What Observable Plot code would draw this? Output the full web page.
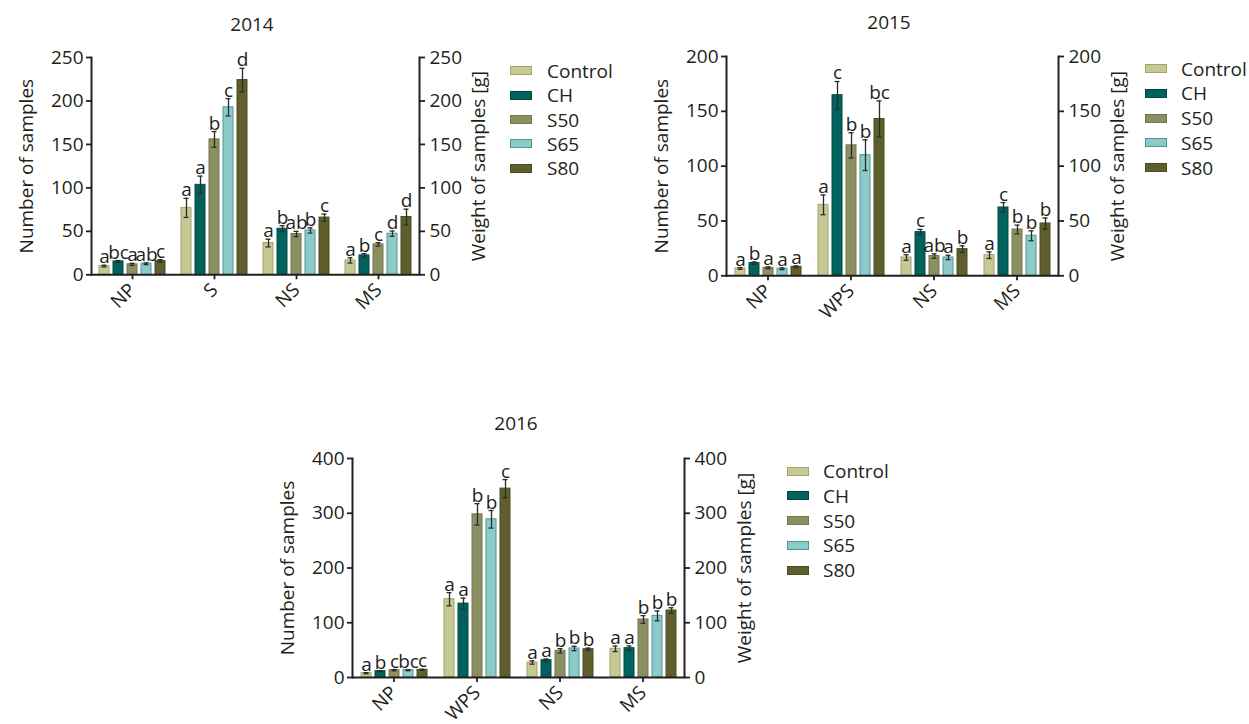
<!DOCTYPE html>
<html><head><meta charset="utf-8">
<script src="https://cdn.jsdelivr.net/npm/d3@7"></script>
<script src="https://cdn.jsdelivr.net/npm/@observablehq/plot@0.6"></script>
<style>
body{margin:0;background:#fff;font-family:"Open Sans",sans-serif;color:#231f20}
#root{position:relative;width:1249px;height:724px;overflow:hidden;background:#fff}
.panel{position:absolute}
.panel svg{overflow:visible}
.title{position:absolute;font-size:19px;line-height:19px;text-align:center;width:100px}
.lrow{position:absolute;height:24px;line-height:24px;font-size:19px;white-space:nowrap}
.sw{position:absolute;width:22px;height:9px;box-sizing:border-box;border:1.5px solid}
</style></head><body><div id="root"></div>
<script>
// ---------- data ----------
const treatments = ["Control", "CH", "S50", "S65", "S80"];
const fillColors = ["#c6c994", "#00615d", "#8b9062", "#8ccbc7", "#5e5f2d"];
const strokeColors = ["#a2a56a", "#004a46", "#72764b", "#4f9794", "#4a4b21"];

const categories2014 = ["NP", "S", "NS", "MS"];
const means2014 = [
  [10, 15.4, 12, 12.7, 16],
  [77, 103.5, 155.8, 192.7, 224],
  [36.5, 53, 47, 51, 65.8],
  [16.5, 22.3, 35, 47.3, 66.5]
];
const errors2014 = [
  [1, 1, 1.2, 1, 1.3],
  [11, 10, 9, 10, 13.5],
  [4.4, 3.5, 3, 3, 4],
  [3, 2, 2, 3, 9]
];
const letters2014 = [
  ["a", "bc", "a", "ab", "c"],
  ["a", "a", "b", "c", "d"],
  ["a", "b", "ab", "b", "c"],
  ["a", "b", "c", "d", "d"]
];
const ticks2014 = [0, 50, 100, 150, 200, 250];

const categories2015 = ["NP", "WPS", "NS", "MS"];
const means2015 = [
  [6.7, 11.6, 7.3, 6.4, 8.2],
  [64.7, 164.7, 119, 110, 143],
  [16.7, 39.8, 18, 16.7, 24.3],
  [18.8, 62.3, 42.2, 36.5, 47.7]
];
const errors2015 = [
  [0.8, 1, 0.8, 0.8, 0.8],
  [9, 12.5, 11.5, 14, 16.5],
  [2.5, 2.5, 2, 2, 3],
  [3, 4.5, 4, 4.5, 5]
];
const letters2015 = [
  ["a", "b", "a", "a", "a"],
  ["a", "c", "b", "b", "bc"],
  ["a", "c", "ab", "a", "b"],
  ["a", "c", "b", "b", "b"]
];
const ticks2015 = [0, 50, 100, 150, 200];

const categories2016 = ["NP", "WPS", "NS", "MS"];
const means2016 = [
  [7.9, 11.6, 13.4, 13.4, 14],
  [143, 135, 298, 289, 345],
  [27.4, 31.7, 48.7, 53, 51.7],
  [52.4, 53.6, 106, 112.6, 122.4]
];
const errors2016 = [
  [1, 1, 1.2, 1, 1],
  [12, 10, 19.5, 16, 16.5],
  [3, 2, 4, 4, 2],
  [5, 4, 7, 9, 5]
];
const letters2016 = [
  ["a", "b", "c", "bc", "c"],
  ["a", "a", "b", "b", "c"],
  ["a", "a", "b", "b", "b"],
  ["a", "a", "b", "b", "b"]
];
const ticks2016 = [0, 100, 200, 300, 400];

const years = ["2014", "2015", "2016"];
const yLabel = "Number of samples";
const y2Label = "Weight of samples [g]";

// ---------- helpers ----------
const fillOf = Object.fromEntries(treatments.map((t, i) => [t, fillColors[i]]));
const strokeOf = Object.fromEntries(treatments.map((t, i) => [t, strokeColors[i]]));
const ink = "#231f20";
const FS = 19;
const root = document.getElementById("root");

function buildRows(cats, means, errs, lets) {
  return cats.flatMap((c, i) => treatments.map((t, j) => ({cat: c, t, v: means[i][j], e: errs[i][j], l: lets[i][j]})));
}

function panel(cfg) {
  const {cats, means, errs, lets, ticks, frameLeft, frameRight, frameTop, frameBottom} = cfg;
  const data = buildRows(cats, means, errs, lets);
  const mL = 90, mR = 81, mT = 56, mB = 55;
  const W = mL + (frameRight - frameLeft) + mR;
  const H = mT + (frameBottom - frameTop) + mB;
  const chart = Plot.plot({
    width: W, height: H,
    marginLeft: mL, marginRight: mR, marginTop: mT, marginBottom: mB,
    style: {fontFamily: "'Open Sans', sans-serif", fontSize: FS + "px", color: ink, background: "transparent", overflow: "visible"},
    fx: {domain: cats, padding: 0},
    x: {domain: treatments, paddingInner: 0.3, paddingOuter: 0.5, axis: null},
    y: {domain: [0, ticks[ticks.length - 1]]},
    color: {type: "identity"},
    marks: [
      Plot.barY(data, {fx: "cat", x: "t", y: "v", fill: d => fillOf[d.t], stroke: d => strokeOf[d.t], strokeWidth: 1}),
      Plot.ruleX(data, {fx: "cat", x: "t", y1: d => d.v - d.e, y2: d => d.v + d.e, stroke: "#2b2b2b", strokeWidth: 1.3}),
      Plot.tickY(data, {fx: "cat", x: "t", y: d => d.v - d.e, stroke: "#2b2b2b", strokeWidth: 1.3, insetLeft: 2.5, insetRight: 2.5}),
      Plot.tickY(data, {fx: "cat", x: "t", y: d => d.v + d.e, stroke: "#2b2b2b", strokeWidth: 1.3, insetLeft: 2.5, insetRight: 2.5}),
      Plot.text(data, {fx: "cat", x: "t", y: d => d.v + d.e, text: "l", lineAnchor: "bottom", dy: -2, fill: ink, fontSize: FS}),
      Plot.ruleY([0], {stroke: ink, strokeWidth: 2}),
      Plot.frame({anchor: "left", facetAnchor: "left", stroke: ink, strokeWidth: 2}),
      Plot.frame({anchor: "right", facetAnchor: "right", stroke: ink, strokeWidth: 2}),
      Plot.axisY(ticks, {anchor: "left", tickSize: 5, tickPadding: 3, strokeWidth: 1.8, stroke: ink, fill: ink, fontSize: FS,
        label: yLabel, labelAnchor: "center", labelArrow: "none", labelOffset: 72}),
      Plot.axisY(ticks, {anchor: "right", tickSize: 5, tickPadding: 5, strokeWidth: 1.8, stroke: ink, fill: ink, fontSize: FS,
        label: y2Label, labelAnchor: "center", labelArrow: "none", labelOffset: 66}),
      Plot.axisFx({anchor: "bottom", tickSize: 5, tickPadding: 7, tickRotate: -45, strokeWidth: 1.8, stroke: ink, fill: ink, fontSize: FS, label: null})
    ]
  });
  const div = document.createElement("div");
  div.className = "panel";
  div.style.left = (frameLeft - mL) + "px";
  div.style.top = (frameTop - mT) + "px";
  div.appendChild(chart);
  root.appendChild(div);

  const title = document.createElement("div");
  title.className = "title";
  title.textContent = cfg.year;
  title.style.left = (cfg.titleX - 50) + "px";
  title.style.top = (cfg.titleBaseline - 17) + "px";
  root.appendChild(title);

  treatments.forEach((t, i) => {
    const y = cfg.legendY + i * cfg.legendStep;
    const sw = document.createElement("div");
    sw.className = "sw";
    sw.style.left = cfg.swatchX + "px";
    sw.style.top = (y - 4.5) + "px";
    sw.style.background = fillOf[t];
    sw.style.borderColor = strokeOf[t];
    root.appendChild(sw);
    const lab = document.createElement("div");
    lab.className = "lrow";
    lab.textContent = t;
    lab.style.left = cfg.textX + "px";
    lab.style.top = (y - 12) + "px";
    root.appendChild(lab);
  });
}

panel({year: years[0], cats: categories2014, means: means2014, errs: errors2014, lets: letters2014, ticks: ticks2014,
  frameLeft: 90, frameRight: 419, frameTop: 56.7, frameBottom: 274,
  titleX: 252, titleBaseline: 32, swatchX: 510, textX: 547, legendY: 70.7, legendStep: 24.4});
panel({year: years[1], cats: categories2015, means: means2015, errs: errors2015, lets: letters2015, ticks: ticks2015,
  frameLeft: 725, frameRight: 1058, frameTop: 55.7, frameBottom: 275,
  titleX: 889, titleBaseline: 30, swatchX: 1145, textX: 1181, legendY: 68.5, legendStep: 24.8});
panel({year: years[2], cats: categories2016, means: means2016, errs: errors2016, lets: letters2016, ticks: ticks2016,
  frameLeft: 351.5, frameRight: 684, frameTop: 458.3, frameBottom: 677.3,
  titleX: 516, titleBaseline: 431, swatchX: 787, textX: 823, legendY: 471, legendStep: 24.8});
</script></body></html>
